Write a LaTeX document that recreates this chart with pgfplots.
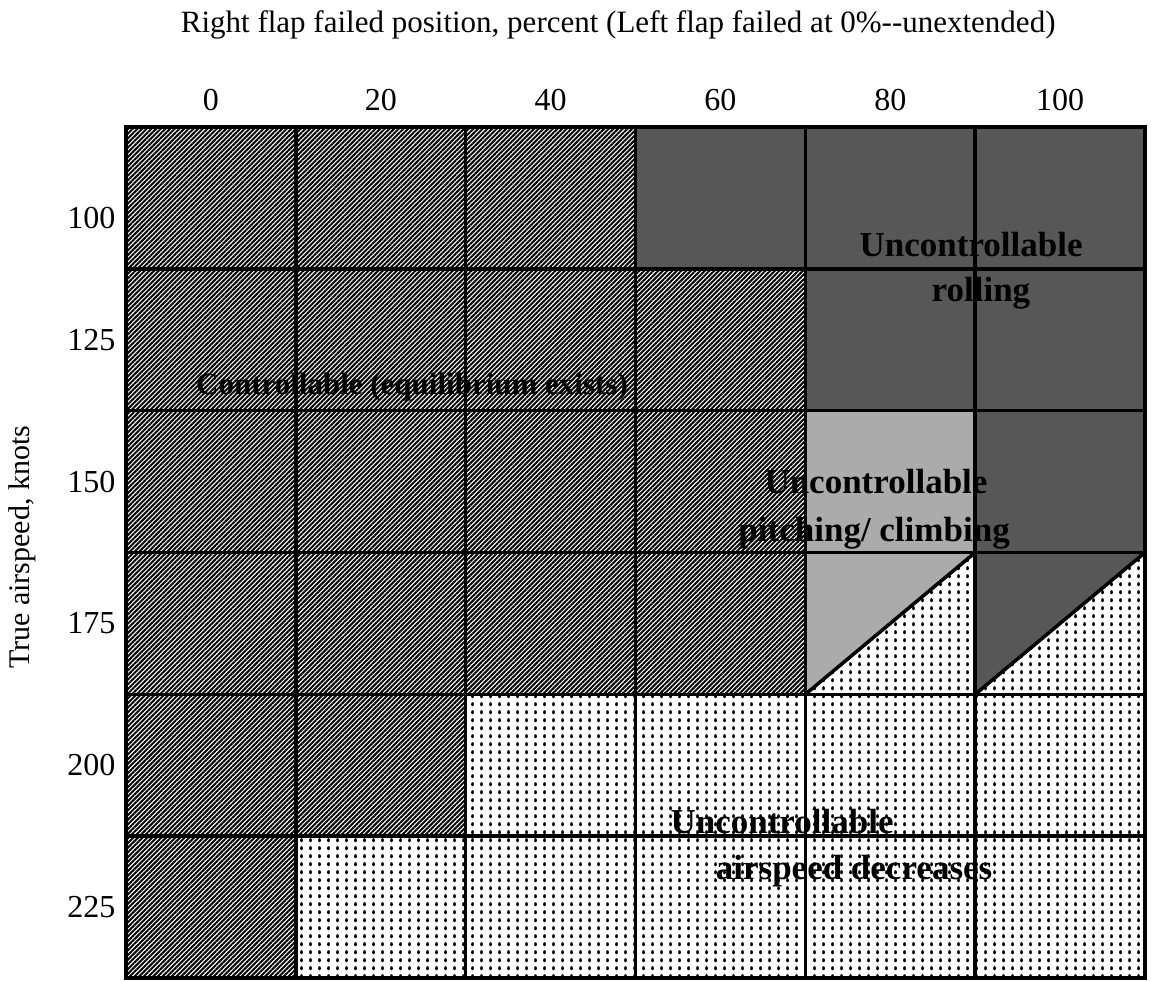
\documentclass[border=0pt]{standalone}
\usepackage{pgfplots}
\pgfplotsset{compat=1.18}
\usepackage{fontspec}
\setmainfont{Liberation Serif}
\usetikzlibrary{patterns,patterns.meta}
\pgfdeclarepatternformonly{vdots}{\pgfpoint{-1pt}{-1pt}}{\pgfpoint{10pt}{9pt}}{\pgfpoint{9pt}{8pt}}{%
  \pgfpathellipse{\pgfpoint{4.5pt}{4pt}}{\pgfpoint{1.4pt}{0pt}}{\pgfpoint{0pt}{2.1pt}}\pgfusepath{fill}}
\begin{document}
\begin{tikzpicture}
\begin{axis}[
  scale only axis,
  width=1019pt, height=851pt,
  xmin=0, xmax=6, ymin=0, ymax=6,
  y dir=reverse,
  xtick={0.5,1.5,2.5,3.5,4.5,5.5},
  xticklabels={0,20,40,60,80,100},
  ytick={0.645,1.5,2.5,3.5,4.5,5.5},
  yticklabels={100,125,150,175,200,225},
  xticklabel pos=upper,
  major tick length=0pt,
  minor xtick={1,2,3,4,5},
  minor ytick={1,2,3,4,5},
  minor tick length=0pt,
  grid=minor,
  minor grid style={black, line width=3.5pt},
  axis line style={black, line width=4.5pt},
  axis on top,
  tick label style={font=\fontsize{32}{38}\selectfont},
  xticklabel style={yshift=13pt},
  yticklabel style={xshift=-7pt},
  clip=false,
]
% Controllable (equilibrium exists)
\addplot[draw=none, pattern={Lines[angle=45,distance=3.3pt,line width=2pt]}, pattern color=black]
  coordinates {(0,0) (3,0) (3,1) (4,1) (4,4) (2,4) (2,5) (1,5) (1,6) (0,6) (0,0)};
% Uncontrollable rolling
\addplot[draw=none, fill=black!66]
  coordinates {(3,0) (6,0) (6,3) (5,4) (5,2) (4,2) (4,1) (3,1) (3,0)};
% Uncontrollable pitching/climbing
\addplot[draw=none, fill=black!33]
  coordinates {(4,2) (5,2) (5,3) (4,4) (4,2)};
% Uncontrollable airspeed decreases
\addplot[draw=none, pattern=vdots, pattern color=black]
  coordinates {(2,4) (4,4) (5,3) (5,4) (6,3) (6,6) (1,6) (1,5) (2,5) (2,4)};
% diagonal boundaries
\addplot[black, line width=3.5pt] coordinates {(4,4) (5,3)};
\addplot[black, line width=3.5pt] coordinates {(5,4) (6,3)};

\node[font=\bfseries\fontsize{31}{36}\selectfont] at (axis cs:1.684,1.833) {Controllable (equilibrium exists)};
\node[font=\bfseries\fontsize{35}{40}\selectfont] at (axis cs:4.976,0.832) {Uncontrollable};
\node[font=\bfseries\fontsize{35}{40}\selectfont] at (axis cs:5.034,1.170) {rolling};
\node[font=\bfseries\fontsize{35}{40}\selectfont] at (axis cs:4.416,2.503) {Uncontrollable};
\node[font=\bfseries\fontsize{35}{40}\selectfont] at (axis cs:4.405,2.863) {pitching/ climbing};
\node[font=\bfseries\fontsize{35}{40}\selectfont] at (axis cs:3.863,4.900) {Uncontrollable};
\node[font=\bfseries\fontsize{35}{40}\selectfont] at (axis cs:4.287,5.246) {airspeed decreases};

\node[font=\fontsize{31}{36}\selectfont] at (axis description cs:0.483,1.12) {Right flap failed position, percent (Left flap failed at 0\%-{}-unextended)};
\node[font=\fontsize{30}{36}\selectfont, rotate=90] at (axis description cs:-0.102,0.506) {True airspeed, knots};
\end{axis}
\path[use as bounding box] ([xshift=-126pt,yshift=-1pt]current axis.south west) rectangle ([xshift=6pt,yshift=127pt]current axis.north east);
\end{tikzpicture}
\end{document}
